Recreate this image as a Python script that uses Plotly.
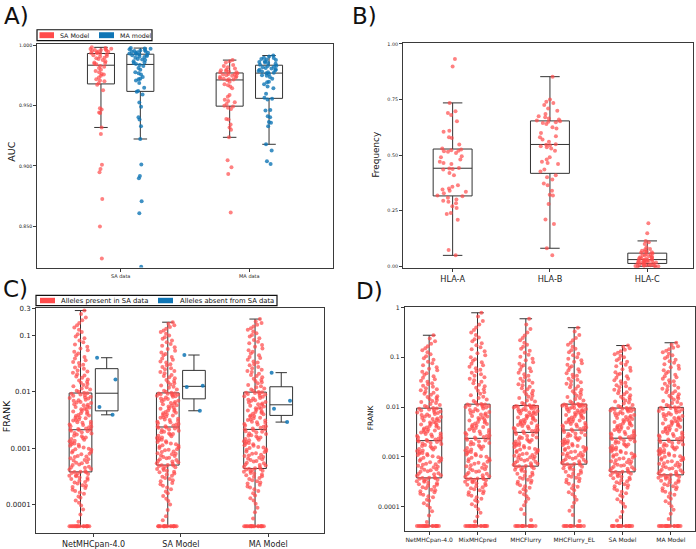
import numpy as np
import plotly.graph_objects as go

# ---------------- Panel A : AUC per allele ----------------
a_groups = ["SA data", "MA data"]
a_models = ["SA Model", "MA model"]
auc_sa_model_sa_data = [
    0.823, 0.8497, 0.8725, 0.8947, 0.8975, 0.901, 0.9265, 0.932, 0.944, 0.9445, 0.947, 0.948, 0.963, 0.9676,
    0.9688, 0.9705, 0.971, 0.972, 0.9735, 0.975, 0.976, 0.9765, 0.978, 0.979, 0.980, 0.9815, 0.9825, 0.983,
    0.9845, 0.985, 0.9855, 0.986, 0.987, 0.988, 0.989, 0.9895, 0.990, 0.991, 0.9915, 0.992, 0.9928, 0.9932,
    0.9938, 0.994, 0.9945, 0.995, 0.9952, 0.9955, 0.996, 0.9963, 0.9965, 0.997, 0.9972, 0.9975, 0.998, 0.9986]
auc_ma_model_sa_data = [
    0.8162, 0.8607, 0.8706, 0.8898, 0.8917, 0.9013, 0.9224, 0.9331, 0.9386, 0.9405, 0.9493, 0.9528, 0.9594, 0.9616,
    0.9624, 0.965, 0.969, 0.971, 0.972, 0.9725, 0.974, 0.976, 0.977, 0.978, 0.980, 0.9815, 0.983, 0.984,
    0.9848, 0.9855, 0.986, 0.987, 0.988, 0.9885, 0.989, 0.990, 0.9905, 0.991, 0.9915, 0.992, 0.9925, 0.9927,
    0.9931, 0.9935, 0.994, 0.9942, 0.9945, 0.995, 0.9953, 0.9955, 0.996, 0.9965, 0.997, 0.9974, 0.9977, 0.998]
auc_sa_model_ma_data = [
    0.8613, 0.8933, 0.899, 0.9048, 0.9238, 0.930, 0.932, 0.9345, 0.9386, 0.939, 0.9474, 0.9484, 0.9494,
    0.950, 0.9515, 0.953, 0.954, 0.955, 0.9575, 0.959, 0.9645, 0.966, 0.967, 0.968, 0.970, 0.9712,
    0.9718, 0.972, 0.9725, 0.973, 0.9735, 0.974, 0.9745, 0.975, 0.9755, 0.976, 0.9762, 0.9765, 0.9768,
    0.9778, 0.978, 0.9785, 0.979, 0.9795, 0.980, 0.981, 0.982, 0.983, 0.984, 0.986, 0.987, 0.988]
auc_ma_model_ma_data = [
    0.9016, 0.904, 0.9128, 0.918, 0.933, 0.936, 0.9365, 0.9405, 0.9413, 0.946, 0.9465, 0.9553, 0.9558,
    0.9566, 0.960, 0.9645, 0.966, 0.968, 0.9695, 0.970, 0.9725, 0.974, 0.975, 0.9755, 0.9765, 0.977,
    0.9774, 0.978, 0.9785, 0.979, 0.9795, 0.980, 0.9805, 0.981, 0.9815, 0.982, 0.9825, 0.983, 0.9833,
    0.9842, 0.985, 0.9855, 0.986, 0.9865, 0.987, 0.988, 0.9885, 0.989, 0.9898, 0.990, 0.991, 0.9918]
a_yticks = [0.85, 0.90, 0.95, 1.00]
a_yticklabels = ["0.850", "0.900", "0.950", "1.000"]

# ---------------- Panel B : allele frequency per locus ----------------
b_loci = ["HLA-A", "HLA-B", "HLA-C"]
freq_hla_a = [
    0.049, 0.073, 0.209, 0.235, 0.24, 0.262, 0.27, 0.284, 0.29, 0.295, 0.30, 0.308, 0.315,
    0.318, 0.328, 0.335, 0.34, 0.345, 0.35, 0.358, 0.365, 0.41, 0.42, 0.435, 0.438, 0.44,
    0.442, 0.46, 0.465, 0.47, 0.48, 0.49, 0.495, 0.51, 0.515, 0.518, 0.52, 0.522, 0.525,
    0.53, 0.548, 0.577, 0.58, 0.605, 0.61, 0.652, 0.68, 0.69, 0.697, 0.735, 0.899, 0.933]
freq_hla_b = [
    0.05, 0.081, 0.19, 0.21, 0.28, 0.318, 0.322, 0.34, 0.365, 0.372, 0.39, 0.40, 0.41,
    0.426, 0.435, 0.46, 0.465, 0.47, 0.48, 0.49, 0.52, 0.53, 0.535, 0.54, 0.545, 0.547,
    0.549, 0.56, 0.57, 0.58, 0.585, 0.60, 0.62, 0.625, 0.64, 0.645, 0.648, 0.65, 0.652,
    0.656, 0.66, 0.665, 0.67, 0.675, 0.685, 0.70, 0.71, 0.725, 0.735, 0.74, 0.75, 0.853]
freq_hla_c = [
    0.0, 0.0, 0.0, 0.001, 0.002, 0.003, 0.004, 0.005, 0.006, 0.008, 0.009, 0.011, 0.012,
    0.0133, 0.015, 0.017, 0.018, 0.02, 0.021, 0.023, 0.024, 0.025, 0.026, 0.027, 0.028, 0.029,
    0.031, 0.033, 0.035, 0.036, 0.038, 0.04, 0.042, 0.045, 0.048, 0.05, 0.052, 0.055, 0.057,
    0.061, 0.063, 0.066, 0.068, 0.07, 0.075, 0.078, 0.085, 0.10, 0.108, 0.114, 0.148, 0.193]
b_yticks = [0.0, 0.25, 0.5, 0.75, 1.0]
b_yticklabels = ["0.00", "0.25", "0.50", "0.75", "1.00"]

# ---------------- Panels C & D : FRANK (stored as log10 FRANK) ----------------
c_methods = ["NetMHCpan-4.0", "SA Model", "MA Model"]
c_series = ["Alleles present in SA data", "Alleles absent from SA data"]
d_methods = ["NetMHCpan-4.0", "MixMHCpred", "MHCFlurry", "MHCFlurry_EL", "SA Model", "MA Model"]

log10_frank_netmhcpan = [
    -4.39, -4.39, -4.39, -4.39, -4.39, -4.39, -4.39, -4.39, -4.39, -4.39, -4.39, -4.39, -4.39, -4.39, -4.39, -4.39, -4.39, -4.39,
    -4.31, -4.18, -4.09, -4.02, -3.97, -3.93, -3.88, -3.86, -3.81, -3.79, -3.76, -3.74, -3.71, -3.69, -3.67, -3.66,
    -3.63, -3.61, -3.6, -3.58, -3.56, -3.55, -3.53, -3.52, -3.5, -3.49, -3.48, -3.46, -3.45, -3.44, -3.43, -3.425,
    -3.42, -3.41, -3.38, -3.37, -3.35, -3.34, -3.33, -3.3, -3.29, -3.27, -3.26, -3.25, -3.22, -3.21, -3.2, -3.18,
    -3.16, -3.15, -3.14, -3.11, -3.1, -3.08, -3.07, -3.05, -3.03, -3.02, -3.01, -2.99, -2.97, -2.96, -2.94, -2.93,
    -2.92, -2.9, -2.88, -2.87, -2.85, -2.84, -2.82, -2.81, -2.79, -2.78, -2.76, -2.74, -2.73, -2.72, -2.7, -2.69,
    -2.68, -2.676,
    -2.672, -2.66, -2.65, -2.63, -2.62, -2.61, -2.59, -2.58, -2.57, -2.55, -2.54, -2.53, -2.51, -2.5, -2.49, -2.47,
    -2.46, -2.45, -2.43, -2.42, -2.41, -2.39, -2.38, -2.36, -2.35, -2.34, -2.32, -2.31, -2.3, -2.28, -2.27, -2.26,
    -2.24, -2.23, -2.22, -2.2, -2.19, -2.18, -2.16, -2.15, -2.14, -2.12, -2.11, -2.1, -2.09, -2.07, -2.06, -2.05,
    -2.035, -2.026,
    -2.018, -2.0, -1.98, -1.96, -1.94, -1.92, -1.9, -1.88, -1.86, -1.84, -1.82, -1.8, -1.78, -1.75, -1.73, -1.71,
    -1.69, -1.66, -1.64, -1.62, -1.59, -1.57, -1.54, -1.52, -1.49, -1.47, -1.44, -1.41, -1.38, -1.35, -1.32, -1.29,
    -1.26, -1.23, -1.2, -1.16, -1.12, -1.09, -1.05, -1.02, -0.98, -0.94, -0.9, -0.86, -0.82, -0.78, -0.73, -0.68,
    -0.62, -0.557]
log10_frank_mixmhcpred = [
    -4.39, -4.39, -4.39, -4.39, -4.39, -4.39, -4.39, -4.39, -4.39, -4.39, -4.39, -4.39, -4.39, -4.39, -4.39, -4.39, -4.39, -4.39,
    -4.3, -4.2, -4.12, -4.05, -3.99, -3.95, -3.9, -3.87, -3.84, -3.81, -3.78, -3.76, -3.73, -3.71, -3.69, -3.67,
    -3.65, -3.63, -3.61, -3.59, -3.57, -3.56, -3.54, -3.53, -3.51, -3.5, -3.49, -3.47, -3.46, -3.45, -3.445, -3.44,
    -3.436, -3.42, -3.4, -3.39, -3.37, -3.35, -3.34, -3.32, -3.3, -3.29, -3.27, -3.25, -3.24, -3.22, -3.2, -3.19,
    -3.17, -3.15, -3.14, -3.12, -3.1, -3.09, -3.07, -3.05, -3.04, -3.02, -3.0, -2.99, -2.97, -2.95, -2.94, -2.92,
    -2.9, -2.89, -2.87, -2.85, -2.84, -2.82, -2.8, -2.79, -2.77, -2.75, -2.74, -2.72, -2.7, -2.69, -2.67, -2.655,
    -2.64, -2.632,
    -2.624, -2.61, -2.6, -2.58, -2.57, -2.55, -2.54, -2.52, -2.51, -2.49, -2.48, -2.46, -2.45, -2.43, -2.42, -2.4,
    -2.39, -2.37, -2.36, -2.34, -2.33, -2.31, -2.3, -2.28, -2.27, -2.25, -2.24, -2.22, -2.21, -2.19, -2.18, -2.16,
    -2.15, -2.13, -2.12, -2.1, -2.09, -2.07, -2.06, -2.04, -2.03, -2.01, -2.0, -1.99, -1.98, -1.97, -1.96, -1.955,
    -1.95, -1.946,
    -1.938, -1.91, -1.88, -1.85, -1.82, -1.79, -1.76, -1.73, -1.7, -1.67, -1.64, -1.61, -1.58, -1.55, -1.52, -1.49,
    -1.46, -1.43, -1.4, -1.37, -1.34, -1.31, -1.28, -1.25, -1.22, -1.19, -1.16, -1.13, -1.1, -1.07, -1.04, -1.0,
    -0.96, -0.92, -0.88, -0.84, -0.8, -0.76, -0.72, -0.68, -0.64, -0.6, -0.55, -0.5, -0.45, -0.4, -0.34, -0.27,
    -0.18, -0.106]
log10_frank_mhcflurry = [
    -4.39, -4.39, -4.39, -4.39, -4.39, -4.39, -4.39, -4.39, -4.39, -4.39, -4.39, -4.39, -4.39, -4.39, -4.39,
    -4.27, -4.15, -4.05, -3.97, -3.9, -3.84, -3.79, -3.75, -3.71, -3.68, -3.65, -3.62, -3.59, -3.57, -3.54, -3.52,
    -3.5, -3.48, -3.46, -3.44, -3.42, -3.4, -3.38, -3.36, -3.34, -3.32, -3.3, -3.28, -3.26, -3.25, -3.23, -3.22,
    -3.21, -3.2, -3.19,
    -3.183, -3.17, -3.16, -3.14, -3.13, -3.12, -3.1, -3.09, -3.08, -3.06, -3.05, -3.04, -3.02, -3.01, -3.0, -2.98,
    -2.97, -2.96, -2.94, -2.93, -2.92, -2.9, -2.89, -2.88, -2.86, -2.85, -2.84, -2.82, -2.81, -2.8, -2.78, -2.77,
    -2.76, -2.74, -2.73, -2.72, -2.7, -2.69, -2.68, -2.66, -2.65, -2.64, -2.62, -2.61, -2.6, -2.58, -2.56, -2.54,
    -2.525, -2.512,
    -2.504, -2.49, -2.48, -2.47, -2.46, -2.44, -2.43, -2.42, -2.41, -2.39, -2.38, -2.37, -2.36, -2.34, -2.33, -2.32,
    -2.31, -2.29, -2.28, -2.27, -2.26, -2.24, -2.23, -2.22, -2.21, -2.19, -2.18, -2.17, -2.16, -2.14, -2.13, -2.12,
    -2.11, -2.1, -2.09, -2.08, -2.07, -2.06, -2.05, -2.04, -2.03, -2.02, -2.01, -2.0, -1.995, -1.99, -1.985, -1.98,
    -1.976, -1.973,
    -1.965, -1.94, -1.92, -1.89, -1.87, -1.84, -1.82, -1.79, -1.77, -1.74, -1.72, -1.69, -1.67, -1.64, -1.62, -1.59,
    -1.56, -1.54, -1.51, -1.48, -1.46, -1.43, -1.4, -1.37, -1.34, -1.31, -1.28, -1.25, -1.22, -1.19, -1.16, -1.13,
    -1.1, -1.06, -1.03, -0.99, -0.95, -0.91, -0.87, -0.83, -0.79, -0.75, -0.71, -0.66, -0.61, -0.56, -0.5, -0.43,
    -0.34, -0.226]
log10_frank_mhcflurry_el = [
    -4.39, -4.39, -4.39, -4.39, -4.39, -4.39, -4.39, -4.39, -4.39, -4.39, -4.39, -4.39, -4.39, -4.39, -4.39,
    -4.29, -4.17, -4.08, -4.0, -3.92, -3.86, -3.8, -3.75, -3.71, -3.67, -3.63, -3.6, -3.57, -3.54, -3.51, -3.49,
    -3.46, -3.44, -3.42, -3.4, -3.38, -3.36, -3.34, -3.32, -3.3, -3.28, -3.26, -3.24, -3.23, -3.21, -3.2, -3.18,
    -3.17, -3.16, -3.15,
    -3.143, -3.13, -3.12, -3.1, -3.09, -3.08, -3.06, -3.05, -3.04, -3.02, -3.01, -3.0, -2.98, -2.97, -2.96, -2.94,
    -2.93, -2.92, -2.9, -2.89, -2.88, -2.86, -2.85, -2.84, -2.82, -2.81, -2.8, -2.78, -2.77, -2.76, -2.74, -2.73,
    -2.72, -2.7, -2.69, -2.68, -2.66, -2.65, -2.63, -2.62, -2.6, -2.59, -2.57, -2.56, -2.54, -2.53, -2.51, -2.5,
    -2.48, -2.466,
    -2.458, -2.45, -2.44, -2.42, -2.41, -2.4, -2.39, -2.37, -2.36, -2.35, -2.34, -2.32, -2.31, -2.3, -2.29, -2.27,
    -2.26, -2.25, -2.24, -2.22, -2.21, -2.2, -2.19, -2.17, -2.16, -2.15, -2.14, -2.12, -2.11, -2.1, -2.09, -2.08,
    -2.07, -2.06, -2.05, -2.04, -2.03, -2.02, -2.01, -2.0, -1.99, -1.98, -1.975, -1.97, -1.965, -1.96, -1.955, -1.952,
    -1.949, -1.946,
    -1.938, -1.92, -1.89, -1.87, -1.84, -1.82, -1.8, -1.77, -1.75, -1.72, -1.7, -1.68, -1.65, -1.63, -1.6, -1.58,
    -1.55, -1.53, -1.5, -1.48, -1.45, -1.43, -1.4, -1.37, -1.35, -1.32, -1.29, -1.26, -1.24, -1.21, -1.18, -1.15,
    -1.12, -1.09, -1.06, -1.03, -1.0, -0.96, -0.93, -0.9, -0.86, -0.83, -0.79, -0.75, -0.71, -0.66, -0.61, -0.55,
    -0.48, -0.405]
log10_frank_sa_model = [
    -4.39, -4.39, -4.39, -4.39, -4.39, -4.39, -4.39, -4.39, -4.39, -4.39, -4.39, -4.39, -4.39, -4.39, -4.39, -4.39, -4.39,
    -4.28, -4.21, -4.1, -4.0, -3.94, -3.9, -3.85, -3.8, -3.77, -3.73, -3.7, -3.67, -3.64, -3.62, -3.59, -3.57,
    -3.55, -3.53, -3.51, -3.49, -3.47, -3.45, -3.43, -3.42, -3.4, -3.39, -3.37, -3.36, -3.34, -3.33, -3.32, -3.31,
    -3.305,
    -3.298, -3.28, -3.27, -3.25, -3.24, -3.23, -3.21, -3.2, -3.18, -3.17, -3.16, -3.14, -3.13, -3.11, -3.1, -3.09,
    -3.07, -3.06, -3.04, -3.03, -3.02, -3.0, -2.99, -2.97, -2.96, -2.95, -2.93, -2.92, -2.9, -2.89, -2.88, -2.86,
    -2.85, -2.83, -2.82, -2.81, -2.79, -2.78, -2.76, -2.75, -2.74, -2.72, -2.71, -2.69, -2.68, -2.67, -2.65, -2.64,
    -2.635, -2.628,
    -2.622, -2.61, -2.6, -2.58, -2.57, -2.56, -2.54, -2.53, -2.52, -2.5, -2.49, -2.48, -2.46, -2.45, -2.44, -2.42,
    -2.41, -2.4, -2.38, -2.37, -2.36, -2.34, -2.33, -2.32, -2.3, -2.29, -2.28, -2.26, -2.25, -2.24, -2.22, -2.21,
    -2.2, -2.18, -2.17, -2.16, -2.14, -2.13, -2.12, -2.1, -2.09, -2.08, -2.07, -2.06, -2.05, -2.045, -2.04, -2.035,
    -2.03, -2.024,
    -2.016, -2.0, -1.98, -1.96, -1.93, -1.91, -1.89, -1.87, -1.85, -1.83, -1.81, -1.79, -1.76, -1.74, -1.72, -1.7,
    -1.67, -1.65, -1.63, -1.6, -1.58, -1.56, -1.53, -1.51, -1.48, -1.46, -1.43, -1.41, -1.38, -1.35, -1.33, -1.3,
    -1.27, -1.24, -1.21, -1.18, -1.15, -1.12, -1.09, -1.06, -1.03, -1.0, -0.97, -0.94, -0.91, -0.88, -0.85, -0.82,
    -0.79, -0.764]
log10_frank_ma_model = [
    -4.39, -4.39, -4.39, -4.39, -4.39, -4.39, -4.39, -4.39, -4.39, -4.39, -4.39, -4.39, -4.39, -4.39, -4.39, -4.39, -4.39, -4.39,
    -4.25, -4.14, -4.06, -3.99, -3.93, -3.89, -3.84, -3.8, -3.76, -3.73, -3.7, -3.68, -3.65, -3.63, -3.61, -3.59,
    -3.57, -3.55, -3.53, -3.51, -3.5, -3.48, -3.47, -3.45, -3.44, -3.42, -3.41, -3.4, -3.39, -3.38, -3.37, -3.365,
    -3.358, -3.34, -3.33, -3.31, -3.3, -3.29, -3.27, -3.26, -3.24, -3.23, -3.21, -3.2, -3.19, -3.17, -3.16, -3.14,
    -3.13, -3.12, -3.1, -3.09, -3.07, -3.06, -3.05, -3.03, -3.02, -3.0, -2.99, -2.98, -2.96, -2.95, -2.93, -2.92,
    -2.91, -2.89, -2.88, -2.86, -2.85, -2.84, -2.82, -2.81, -2.79, -2.78, -2.77, -2.75, -2.74, -2.72, -2.71, -2.7,
    -2.685, -2.67,
    -2.666, -2.65, -2.64, -2.62, -2.61, -2.6, -2.58, -2.57, -2.55, -2.54, -2.53, -2.51, -2.5, -2.49, -2.47, -2.46,
    -2.44, -2.43, -2.42, -2.4, -2.39, -2.37, -2.36, -2.35, -2.33, -2.32, -2.3, -2.29, -2.28, -2.26, -2.25, -2.23,
    -2.22, -2.21, -2.19, -2.18, -2.16, -2.15, -2.14, -2.12, -2.11, -2.09, -2.08, -2.07, -2.05, -2.04, -2.03, -2.02,
    -2.015, -2.01,
    -2.002, -1.98, -1.96, -1.94, -1.92, -1.9, -1.88, -1.85, -1.83, -1.81, -1.79, -1.77, -1.74, -1.72, -1.7, -1.68,
    -1.65, -1.63, -1.61, -1.58, -1.56, -1.53, -1.51, -1.48, -1.46, -1.43, -1.4, -1.38, -1.35, -1.32, -1.29, -1.26,
    -1.23, -1.2, -1.17, -1.14, -1.11, -1.08, -1.05, -1.02, -0.99, -0.96, -0.93, -0.9, -0.87, -0.84, -0.81, -0.78,
    -0.75, -0.708]
# alleles absent from SA data (4 alleles)
log10_frank_absent_netmhcpan = [-2.409, -2.268, -1.783, -1.395]
log10_frank_absent_sa_model = [-2.337, -1.914, -1.893, -1.347]
log10_frank_absent_ma_model = [-2.538, -2.301, -2.161, -1.66]
c_ytick_values = [0.0001, 0.001, 0.01, 0.1, 0.3]
c_yticklabels = ["0.0001", "0.001", "0.01", "0.1", "0.3"]
d_ytick_values = [0.0001, 0.001, 0.01, 0.1, 1]
d_yticklabels = ["0.0001", "0.001", "0.01", "0.1", "1"]

# ---------------- styling ----------------
W, H = 696, 549
RED = "#ff4b4b"
BLUE = "#0f75b5"
BOXLINE = "#333333"
FRAME = "#3a3a3a"
FONT = "DejaVu Sans"


def PX(x):
    return x / W


def PY(y):
    return 1 - y / H


def box(values, pos, width, color, xa, ya, jitter, opacity):
    return go.Box(
        y=values, x0=pos, width=width, boxpoints="all", jitter=jitter, pointpos=0,
        marker=dict(color=color, size=4, opacity=opacity, line=dict(width=0)),
        line=dict(color=BOXLINE, width=1), fillcolor="rgba(0,0,0,0)",
        whiskerwidth=0.5, xaxis=xa, yaxis=ya, showlegend=False, hoverinfo="skip")


fig = go.Figure()

# Panel A
a_data = [[auc_sa_model_sa_data, auc_ma_model_sa_data],
          [auc_sa_model_ma_data, auc_ma_model_ma_data]]
for g in range(len(a_groups)):
    fig.add_trace(box(a_data[g][0], g - 0.153, 0.21, RED, "x", "y", 0.85, 0.7))
    fig.add_trace(box(a_data[g][1], g + 0.153, 0.21, BLUE, "x", "y", 0.85, 0.8))

# Panel B
for g, vals in enumerate([freq_hla_a, freq_hla_b, freq_hla_c]):
    fig.add_trace(box(vals, g, 0.4, RED, "x2", "y2", 0.8, 0.7))

# Panel C
c_present = [log10_frank_netmhcpan, log10_frank_sa_model, log10_frank_ma_model]
c_absent = [log10_frank_absent_netmhcpan, log10_frank_absent_sa_model, log10_frank_absent_ma_model]
for g in range(len(c_methods)):
    fig.add_trace(box(c_present[g], g - 0.15, 0.26, RED, "x3", "y3", 1.0, 0.72))
    fig.add_trace(box(c_absent[g], g + 0.15, 0.26, BLUE, "x3", "y3", 1.0, 0.85))

# Panel D
d_data = [log10_frank_netmhcpan, log10_frank_mixmhcpred, log10_frank_mhcflurry,
          log10_frank_mhcflurry_el, log10_frank_sa_model, log10_frank_ma_model]
for g, vals in enumerate(d_data):
    fig.add_trace(box(vals, g, 0.52, RED, "x4", "y4", 1.0, 0.72))


def axis_style(tickfont, ticklen):
    return dict(showline=True, mirror=True, linecolor=FRAME, linewidth=1,
                ticks="outside", ticklen=ticklen, tickwidth=1, tickcolor=FRAME,
                showgrid=False, zeroline=False,
                tickfont=dict(size=tickfont, color="#222", family=FONT))


fig.update_layout(
    width=W, height=H, margin=dict(l=0, r=0, t=0, b=0),
    paper_bgcolor="white", plot_bgcolor="white",
    font=dict(family=FONT, color="#222"), showlegend=False, boxmode="overlay",
    xaxis=dict(domain=[PX(37), PX(333)], anchor="y", range=[-0.65, 1.65],
               tickmode="array", tickvals=list(range(len(a_groups))), ticktext=a_groups,
               **axis_style(5, 3)),
    yaxis=dict(domain=[PY(267), PY(41)], anchor="x", range=[0.8155, 1.0017],
               tickmode="array", tickvals=a_yticks, ticktext=a_yticklabels,
               **axis_style(4.6, 3)),
    xaxis2=dict(domain=[PX(403), PX(693)], anchor="y2", range=[-0.51, 2.47],
                tickmode="array", tickvals=list(range(len(b_loci))), ticktext=b_loci,
                **axis_style(8.2, 3)),
    yaxis2=dict(domain=[PY(267.7), PY(40.7)], anchor="x2", range=[-0.009, 1.003],
                tickmode="array", tickvals=b_yticks, ticktext=b_yticklabels,
                **axis_style(4.8, 3)),
    xaxis3=dict(domain=[PX(36), PX(324)], anchor="y3", range=[-0.66, 2.64],
                tickmode="array", tickvals=list(range(len(c_methods))), ticktext=c_methods,
                **axis_style(8, 3)),
    yaxis3=dict(domain=[PY(535), PY(307.7)], anchor="x3", range=[-4.51, -0.51],
                tickmode="array", tickvals=list(np.log10(c_ytick_values)), ticktext=c_yticklabels,
                **axis_style(7, 3)),
    xaxis4=dict(domain=[PX(405), PX(695)], anchor="y4", range=[-0.5, 5.5],
                tickmode="array", tickvals=list(range(len(d_methods))), ticktext=d_methods,
                **axis_style(6, 3)),
    yaxis4=dict(domain=[PY(532.7), PY(306.7)], anchor="x4", range=[-4.486, 0.012],
                tickmode="array", tickvals=list(np.log10(d_ytick_values)), ticktext=d_yticklabels,
                **axis_style(6.2, 3)),
)

ann = []
shapes = []


def text(x, y, s, size, xanchor="left", angle=0):
    ann.append(dict(x=PX(x), y=PY(y), xref="paper", yref="paper", text=s, showarrow=False,
                    xanchor=xanchor, yanchor="middle", textangle=angle,
                    font=dict(size=size, family=FONT, color="#111")))


# panel letters
text(2, 13.5, "A)", 23)
text(350, 13.5, "B)", 23)
text(1, 289, "C)", 23)
text(354, 291, "D)", 23)

# axis titles
text(12, 150, "AUC", 9.5, "center", -90)
text(376, 153, "Frequency", 8.9, "center", -90)
text(6, 417, "FRANK", 9.5, "center", -90)
text(370, 419, "FRANK", 7.4, "center", -90)


def rect(x0, y0, x1, y1, fill, line_color=None, lw=0):
    shapes.append(dict(type="rect", xref="paper", yref="paper",
                       x0=PX(x0), x1=PX(x1), y0=PY(y1), y1=PY(y0),
                       fillcolor=fill, line=dict(color=line_color or fill, width=lw)))


# legend A
rect(37, 27, 152, 38, "white", "#111", 1.2)
rect(39.5, 29.5, 54, 35.5, RED)
text(58, 32.5, a_models[0], 6.3)
rect(99, 29.5, 114, 35.5, BLUE)
text(118, 32.5, a_models[1], 6.3)

# legend C
rect(36, 295, 277, 305.5, "white", "#111", 1.2)
rect(40, 297.5, 55, 303, RED)
text(59, 300.3, c_series[0], 6.8)
rect(158, 297.5, 173, 303, BLUE)
text(178, 300.3, c_series[1], 6.8)

fig.update_layout(annotations=ann, shapes=shapes)
fig.write_html(
    "out.html",
    config={"displayModeBar": False, "staticPlot": True},
    post_script="document.body.style.margin='0';document.body.style.padding='0';"
                "document.body.style.overflow='hidden';",
)
